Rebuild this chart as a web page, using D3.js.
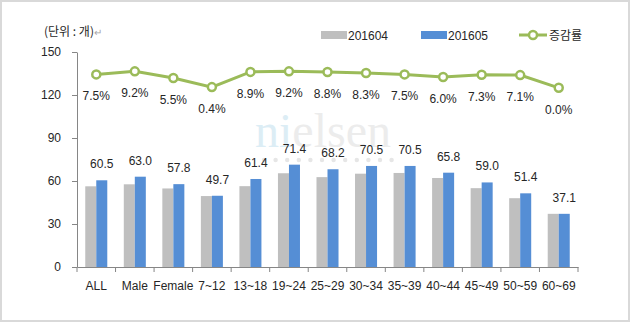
<!DOCTYPE html>
<html>
<head>
<meta charset="utf-8">
<script src="https://cdn.jsdelivr.net/npm/d3@7"></script>
<style>
  body { margin: 0; background: #fff; }
  svg { display: block; font-family: "Liberation Sans", "Noto Sans CJK KR", sans-serif; }
</style>
</head>
<body>
<script>
// categories and series
var categories = ["ALL", "Male", "Female", "7~12", "13~18", "19~24", "25~29", "30~34", "35~39", "40~44", "45~49", "50~59", "60~69"];
var apr = [56.3, 57.7, 54.8, 49.5, 56.4, 65.4, 62.7, 65.1, 65.6, 62.1, 55.0, 48.0, 37.1];
var may = [60.5, 63.0, 57.8, 49.7, 61.4, 71.4, 68.2, 70.5, 70.5, 65.8, 59.0, 51.4, 37.1];
var growth = [7.5, 9.2, 5.5, 0.4, 8.9, 9.2, 8.8, 8.3, 7.5, 6.0, 7.3, 7.1, 0.0];
var yTicks = [0, 30, 60, 90, 120, 150];

var width = 630, height = 322;
var plotLeft = 77, plotRight = 578, plotTop = 52, plotBottom = 267;

var svg = d3.select("body").append("svg")
    .attr("width", width)
    .attr("height", height);

// outer frame
svg.append("rect")
    .attr("x", 1).attr("y", 1)
    .attr("width", width - 2).attr("height", height - 2)
    .attr("fill", "#fff")
    .attr("stroke", "#d9d9d9")
    .attr("stroke-width", 2);

var x = d3.scaleBand().domain(categories).range([plotLeft, plotRight]);
var xs = d3.scaleBand().domain(["apr", "may"]).range([0, x.bandwidth()]).paddingOuter(0.75);
var y = d3.scaleLinear().domain([0, 150]).range([plotBottom, plotTop]);
// hidden secondary axis for the growth rate line
var y2 = d3.scaleLinear().domain([-100, 20]).range([plotBottom, plotTop]);

// watermark
var wm = svg.append("text")
    .attr("x", 255).attr("y", 147)
    .style("font-family", "'Liberation Serif', serif")
    .style("font-size", "48px");
wm.append("tspan").attr("fill", "#dcedf5").text("ni");
wm.append("tspan").attr("fill", "#ececec").text("elsen");
svg.selectAll(".wmdot")
    .data(d3.range(12))
    .enter().append("circle")
    .attr("cx", function(d) { return 264 + d * 11.6; })
    .attr("cy", 160)
    .attr("r", 2.2)
    .attr("fill", "#e6e6e6");

// bars
var groups = svg.selectAll(".cat")
    .data(categories)
    .enter().append("g")
    .attr("transform", function(d) { return "translate(" + x(d) + ",0)"; });

groups.append("rect")
    .attr("x", xs("apr"))
    .attr("width", xs.bandwidth())
    .attr("y", function(d, i) { return y(apr[i]); })
    .attr("height", function(d, i) { return plotBottom - y(apr[i]); })
    .attr("fill", "#bfbfbf");

groups.append("rect")
    .attr("x", xs("may"))
    .attr("width", xs.bandwidth())
    .attr("y", function(d, i) { return y(may[i]); })
    .attr("height", function(d, i) { return plotBottom - y(may[i]); })
    .attr("fill", "#558ed5");

groups.append("text")
    .attr("x", xs("may") + xs.bandwidth() / 2)
    .attr("y", function(d, i) { return y(may[i]) - 12; })
    .attr("text-anchor", "middle")
    .attr("fill", "#262626")
    .style("font-size", "12px")
    .text(function(d, i) { return may[i].toFixed(1); });

// y axis
var yAxis = svg.append("g")
    .attr("transform", "translate(" + plotLeft + ",0)")
    .call(d3.axisLeft(y).tickValues(yTicks).tickSize(5).tickSizeOuter(0).tickPadding(11));

// x axis with ticks on category boundaries
var xAxis = svg.append("g")
    .attr("transform", "translate(0," + plotBottom + ")")
    .call(d3.axisBottom(x).tickSize(0).tickSizeOuter(0).tickPadding(14));
xAxis.selectAll(".bound")
    .data(d3.range(categories.length + 1))
    .enter().append("line")
    .attr("x1", function(d) { return plotLeft + d * x.step(); })
    .attr("x2", function(d) { return plotLeft + d * x.step(); })
    .attr("y1", 0).attr("y2", 5);

[yAxis, xAxis].forEach(function(ax) {
    ax.select(".domain").attr("stroke", "#868686");
    ax.selectAll("line").attr("stroke", "#868686");
    ax.selectAll("text")
        .attr("fill", "#262626")
        .style("font-size", "12px")
        .style("font-family", "'Liberation Sans', sans-serif");
});

// growth rate line
var cx = function(d, i) { return x(categories[i]) + x.bandwidth() / 2; };
var line = d3.line()
    .x(cx)
    .y(function(d) { return y2(d); });

svg.append("path")
    .datum(growth)
    .attr("d", line)
    .attr("fill", "none")
    .attr("stroke", "#9bbb59")
    .attr("stroke-width", 3);

svg.selectAll(".pt")
    .data(growth)
    .enter().append("circle")
    .attr("cx", cx)
    .attr("cy", function(d) { return y2(d); })
    .attr("r", 4)
    .attr("fill", "#fff")
    .attr("stroke", "#9bbb59")
    .attr("stroke-width", 2.5);

svg.selectAll(".pct")
    .data(growth)
    .enter().append("text")
    .attr("x", cx)
    .attr("y", function(d) { return y2(d) + 26; })
    .attr("text-anchor", "middle")
    .attr("fill", "#262626")
    .style("font-size", "12px")
    .text(function(d) { return d.toFixed(1) + "%"; });

// unit note
var unit = svg.append("text")
    .attr("x", 44).attr("y", 36)
    .attr("fill", "#262626")
    .style("font-size", "12px")
    .style("font-family", "'Noto Sans CJK KR', sans-serif");
unit.append("tspan").text("(단위 : 개)");
unit.append("tspan").attr("fill", "#a6a6a6").style("font-size", "10px").text("↵");

// legend
var legend = svg.append("g").style("font-size", "12px");
legend.append("rect").attr("x", 321).attr("y", 31).attr("width", 26).attr("height", 8).attr("fill", "#bfbfbf");
legend.append("text").attr("x", 348).attr("y", 39.5).attr("fill", "#262626").text("201604");
legend.append("rect").attr("x", 421).attr("y", 31).attr("width", 26).attr("height", 8).attr("fill", "#558ed5");
legend.append("text").attr("x", 448).attr("y", 39.5).attr("fill", "#262626").text("201605");
legend.append("line").attr("x1", 519).attr("x2", 547).attr("y1", 35).attr("y2", 35)
    .attr("stroke", "#9bbb59").attr("stroke-width", 3);
legend.append("circle").attr("cx", 533).attr("cy", 35).attr("r", 4)
    .attr("fill", "#fff").attr("stroke", "#9bbb59").attr("stroke-width", 2.5);
legend.append("text").attr("x", 549).attr("y", 40)
    .attr("fill", "#262626")
    .style("font-family", "'Noto Sans CJK KR', sans-serif")
    .text("증감률");
</script>
</body>
</html>
